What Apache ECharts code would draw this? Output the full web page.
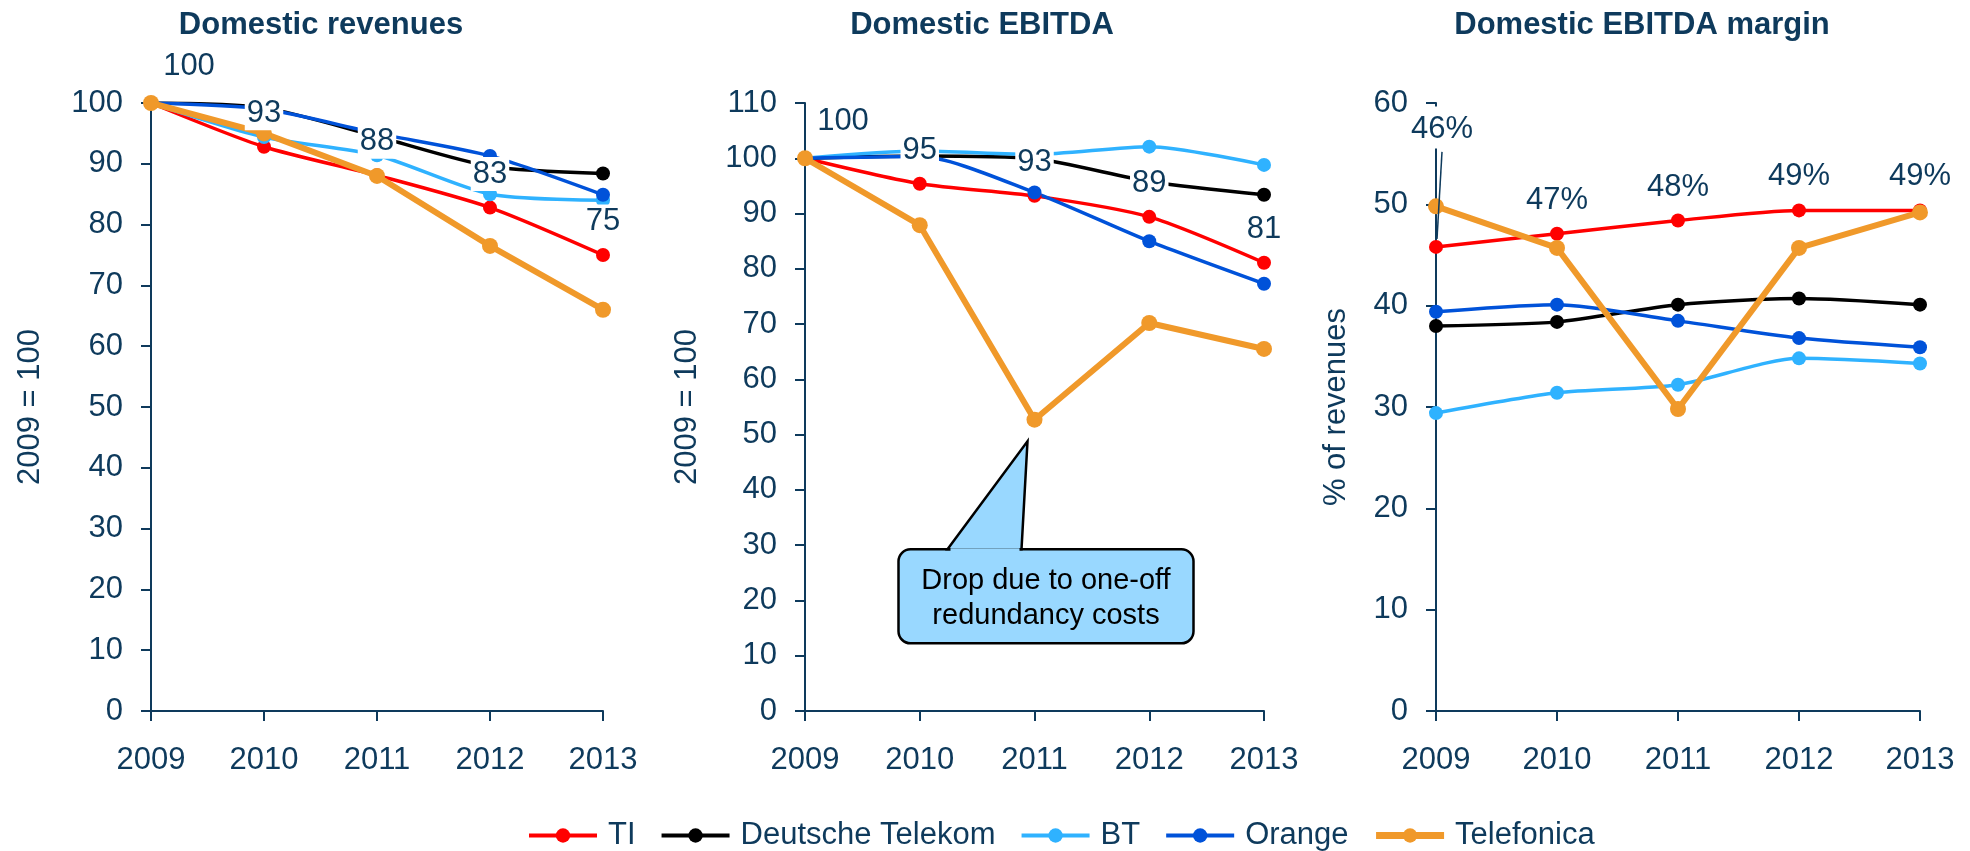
<!DOCTYPE html>
<html><head><meta charset="utf-8">
<script src="https://cdn.jsdelivr.net/npm/echarts@6/dist/echarts.min.js"></script>
<style>html,body{margin:0;padding:0;background:#fff}#c{width:1970px;height:851px}</style>
</head><body><div id="c"></div>
<script>
// ---------- data ----------
const years = ['2009', '2010', '2011', '2012', '2013'];
const seriesNames = ['TI', 'Deutsche Telekom', 'BT', 'Orange', 'Telefonica'];
const chartTitles = ['Domestic revenues', 'Domestic EBITDA', 'Domestic EBITDA margin'];
const axisNames = ['2009 = 100', '2009 = 100', '% of revenues'];
const yMax = [100, 110, 60];
const labelSuffix = ['', '', '%'];

const revTI = [100, 92.8, 88.1, 82.8, 75.0];
const revDT = [100, 99.2, 94.5, 89.6, 88.4];
const revBT = [100, 94.4, 91.4, 85.0, 84.0];
const revOrange = [100, 99.0, 95.0, 91.3, 84.9];
const revTelefonica = [100, 95.0, 88.0, 76.5, 66.0];

const ebitdaTI = [100, 95.4, 93.2, 89.4, 81.1];
const ebitdaDT = [100, 100.4, 99.9, 95.8, 93.4];
const ebitdaBT = [100, 101.3, 100.7, 102.1, 98.8];
const ebitdaOrange = [100, 100.3, 93.8, 85.0, 77.3];
const ebitdaTelefonica = [100, 87.9, 52.7, 70.2, 65.5];

const marginTI = [45.8, 47.1, 48.4, 49.4, 49.4];
const marginDT = [38.0, 38.4, 40.1, 40.7, 40.1];
const marginBT = [29.4, 31.4, 32.2, 34.8, 34.3];
const marginOrange = [39.4, 40.1, 38.5, 36.8, 35.9];
const marginTelefonica = [49.8, 45.7, 29.8, 45.7, 49.2];

const calloutText = 'Drop due to one-off\nredundancy costs';
const calloutAnchor = ['2011', 48.8];

const panels = [
  [revTI, revDT, revBT, revOrange, revTelefonica],
  [ebitdaTI, ebitdaDT, ebitdaBT, ebitdaOrange, ebitdaTelefonica],
  [marginTI, marginDT, marginBT, marginOrange, marginTelefonica]
];

// ---------- style ----------
const navy = '#0e3a5c';
const FONT = "'Liberation Sans', Arial, sans-serif";
const colors = ['#ff0000', '#000000', '#2fb2ff', '#0052d9', '#f0992a'];
const grids = [
  {left: 151, top: 103, width: 452, height: 608},
  {left: 805, top: 103, width: 459, height: 608},
  {left: 1436, top: 103, width: 484, height: 608}
];
const titleCenters = [316, 977, 1637];
const nameGaps = [105, 102, 84];

const chart = echarts.init(document.getElementById('c'), null, {renderer: 'canvas'});

const xAxes = [], yAxes = [], series = [], titles = [];
for (let g = 0; g < 3; g++) {
  titles.push({
    text: chartTitles[g], left: titleCenters[g], top: 5, textAlign: 'center',
    textStyle: {fontFamily: FONT, fontSize: 31, fontWeight: 'bold', color: navy}
  });
  xAxes.push({
    type: 'category', gridIndex: g, data: years, boundaryGap: false,
    axisLine: {lineStyle: {color: navy, width: 2}},
    axisTick: {show: true, length: 10, lineStyle: {color: navy, width: 2}},
    axisLabel: {color: navy, fontSize: 31, fontFamily: FONT, margin: 34}
  });
  yAxes.push({
    type: 'value', gridIndex: g, min: 0, max: yMax[g], interval: 10,
    axisLine: {show: true, lineStyle: {color: navy, width: 2}},
    axisTick: {show: true, length: 10, lineStyle: {color: navy, width: 2}},
    splitLine: {show: false},
    axisLabel: {color: navy, fontSize: 31, fontFamily: FONT, margin: 28},
    name: axisNames[g], nameLocation: 'middle', nameGap: nameGaps[g],
    nameTextStyle: {color: navy, fontSize: 31, fontFamily: FONT}
  });
  panels[g].forEach((arr, i) => {
    const isTel = i === 4;
    series.push({
      type: 'line', name: seriesNames[i], data: arr,
      xAxisIndex: g, yAxisIndex: g,
      symbol: 'circle', symbolSize: isTel ? 16 : 14,
      smooth: isTel ? false : 0.25,
      lineStyle: {color: colors[i], width: isTel ? 6 : 3.5},
      itemStyle: {color: colors[i]},
      emphasis: {disabled: true},
      animation: false, z: 2
    });
  });
  // data labels (TI values)
  const suffix = labelSuffix[g];
  const labelData = panels[g][0].map((v, i) => {
    if (i === 0 && g < 2) return {value: v, label: {offset: [38, -3]}};
    if (i === 0 && g === 2) return {value: v, label: {offset: [6, -82], padding: [6, 2, 2, 2]}};
    return v;
  });
  series.push({
    type: 'scatter', name: '_lbl' + g, data: labelData,
    xAxisIndex: g, yAxisIndex: g, symbolSize: 1,
    itemStyle: {color: 'rgba(0,0,0,0)', opacity: 1}, silent: true, animation: false, z: 10,
    emphasis: {disabled: true},
    label: {
      show: true, position: 'top', distance: 16,
      formatter: p => Math.round(p.value) + suffix,
      color: navy, fontSize: 31, fontFamily: FONT, lineHeight: 34,
      backgroundColor: '#ffffff', padding: [0, 2], opacity: 1
    }
  });
}

chart.setOption({
  backgroundColor: '#ffffff',
  animation: false,
  title: titles,
  grid: grids,
  xAxis: xAxes,
  yAxis: yAxes,
  legend: {
    data: seriesNames.map((n, i) => ({name: n, lineStyle: {width: i === 4 ? 7 : 4}})),
    left: 522, top: 815,
    itemWidth: 68, itemHeight: 18, itemGap: 24,
    textStyle: {color: navy, fontSize: 31, fontFamily: FONT, padding: [0, 0, 0, 6]}
  },
  series: series
});

// ---------- annotations ----------
const tip = chart.convertToPixel({xAxisIndex: 1, yAxisIndex: 1}, calloutAnchor);
const tx = tip[0] - 7, ty = tip[1];
const x0 = tx - 129, x1 = tx + 166, y0 = ty + 108, y1 = ty + 202;
const b1 = tx - 80, b2 = tx - 6;
const fillC = '#99d8ff';
const p46 = chart.convertToPixel({xAxisIndex: 2, yAxisIndex: 2}, [years[0], marginTI[0]]);

chart.setOption({
  graphic: [
    {
      type: 'rect', z: 20,
      shape: {x: x0, y: y0, width: x1 - x0, height: y1 - y0, r: 12},
      style: {fill: fillC, stroke: '#000000', lineWidth: 2.5}
    },
    {
      type: 'polygon', z: 21,
      shape: {points: [[b1, y0], [tx, ty], [b2, y0]]},
      style: {fill: fillC, stroke: '#000000', lineWidth: 2.5}
    },
    {
      type: 'line', z: 22,
      shape: {x1: b1 + 3, y1: y0 + 1, x2: b2 - 2, y2: y0 + 1},
      style: {stroke: fillC, lineWidth: 4}
    },
    {
      type: 'text', z: 23, x: (x0 + x1) / 2, y: (y0 + y1) / 2 + 2,
      style: {text: calloutText, fill: '#000000', font: "29px 'Liberation Sans', Arial, sans-serif",
        align: 'center', verticalAlign: 'middle', lineHeight: 35}
    },
    {
      type: 'line', z: 20,
      shape: {x1: p46[0] + 6, y1: p46[1] - 95, x2: p46[0] + 1, y2: p46[1] - 8},
      style: {stroke: navy, lineWidth: 1.5}
    }
  ]
});
</script>
</body></html>
